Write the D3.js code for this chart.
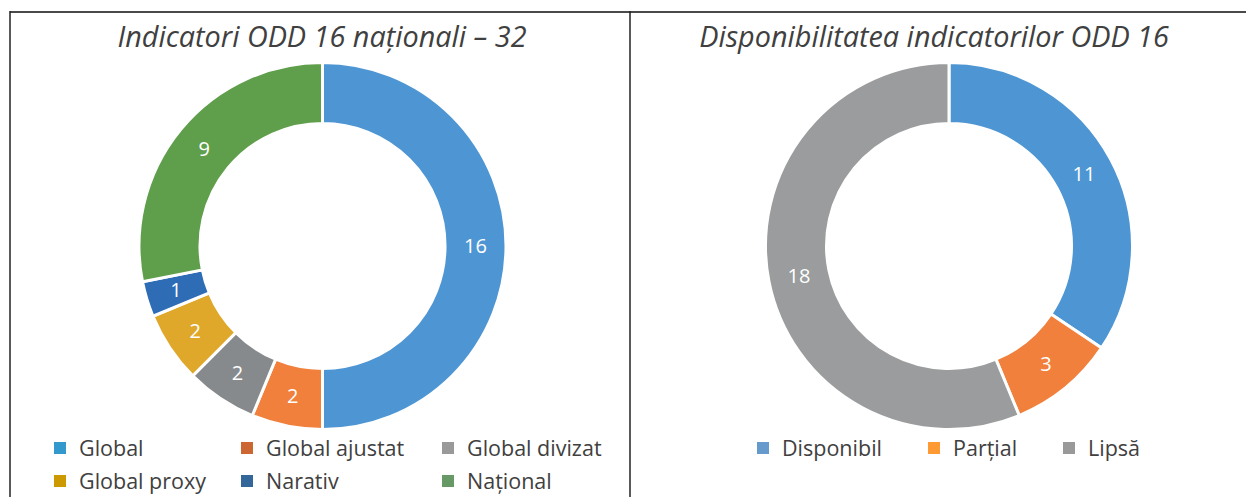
<!DOCTYPE html>
<html>
<head>
<meta charset="utf-8">
<script src="https://cdn.jsdelivr.net/npm/d3@7/dist/d3.min.js"></script>
<style>
  html, body { margin: 0; padding: 0; background: #ffffff; }
  svg { display: block; }
  text { font-family: "Open Sans", "Noto Sans", sans-serif; }
</style>
</head>
<body>
<svg id="chart" width="1246" height="497"></svg>
<script>
// National SDG 16 indicators by type
const leftCategories = ["Global", "Global ajustat", "Global divizat", "Global proxy", "Narativ", "Național"];
const leftValues = [16, 2, 2, 2, 1, 9];

// Availability of SDG 16 indicators
const rightCategories = ["Disponibil", "Parțial", "Lipsă"];
const rightValues = [11, 3, 18];

const titles = ["Indicatori ODD 16 naționali – 32", "Disponibilitatea indicatorilor ODD 16"];

// Slice fills and legend swatch fills
const leftSliceColors = ["#4e96d3", "#f0803c", "#878a8c", "#dfa82a", "#2e6cb5", "#5f9e4a"];
const leftSwatchColors = ["#3399cc", "#cc6633", "#999999", "#cc9900", "#336699", "#669966"];
const rightSliceColors = ["#4e96d3", "#f0803c", "#9a9c9d"];
const rightSwatchColors = ["#6699cc", "#ff9933", "#999999"];

const svg = d3.select("#chart");

// Panel frame
svg.append("line").attr("x1", 10).attr("x2", 1246).attr("y1", 12).attr("y2", 12)
  .attr("stroke", "#4a4a4a").attr("stroke-width", 2);
svg.append("line").attr("x1", 10).attr("x2", 10).attr("y1", 11).attr("y2", 497)
  .attr("stroke", "#222").attr("stroke-width", 1.5);
svg.append("line").attr("x1", 630).attr("x2", 630).attr("y1", 11).attr("y2", 497)
  .attr("stroke", "#222").attr("stroke-width", 1.5);

const outerR = 183.5, innerR = 122.5;
const arc = d3.arc().innerRadius(innerR).outerRadius(outerR);
const labelArc = d3.arc().innerRadius((innerR + outerR) / 2).outerRadius((innerR + outerR) / 2);
const pie = d3.pie().sort(null).value(d => d.value);

function donut(cx, cy, cats, vals, colors) {
  const data = cats.map((c, i) => ({ cat: c, value: vals[i], color: colors[i] }));
  const g = svg.append("g").attr("transform", `translate(${cx},${cy})`);
  const arcs = pie(data);
  g.selectAll("path").data(arcs).join("path")
    .attr("d", arc)
    .attr("fill", d => d.data.color)
    .attr("stroke", "#ffffff")
    .attr("stroke-width", 3);
  g.selectAll("text").data(arcs).join("text")
    .attr("transform", d => `translate(${labelArc.centroid(d)})`)
    .attr("text-anchor", "middle")
    .attr("dy", "0.35em")
    .attr("fill", "#ffffff")
    .attr("font-size", 20)
    .text(d => d.data.value);
}

donut(322.5, 246, leftCategories, leftValues, leftSliceColors);
donut(949, 246, rightCategories, rightValues, rightSliceColors);

// Titles
svg.append("text").attr("x", 322).attr("y", 47).attr("text-anchor", "middle")
  .attr("font-size", 28.8).attr("font-style", "italic").attr("fill", "#404040")
  .text(titles[0]);
svg.append("text").attr("x", 934).attr("y", 47).attr("text-anchor", "middle")
  .attr("font-size", 28.8).attr("font-style", "italic").attr("fill", "#404040")
  .text(titles[1]);

// Legends
function legend(cats, colors, colX, rowY, perRow) {
  cats.forEach((c, i) => {
    const x = colX[i % perRow];
    const y = rowY[Math.floor(i / perRow)];
    svg.append("rect").attr("x", x).attr("y", y - 6).attr("width", 12).attr("height", 12)
      .attr("fill", colors[i]);
    svg.append("text").attr("x", x + 25).attr("y", y).attr("dy", "0.35em")
      .attr("font-size", 21.5).attr("fill", "#404040").text(c);
  });
}
legend(leftCategories, leftSwatchColors, [54, 241, 442], [448, 481], 3);
legend(rightCategories, rightSwatchColors, [757, 928, 1063], [448], 3);
</script>
</body>
</html>
